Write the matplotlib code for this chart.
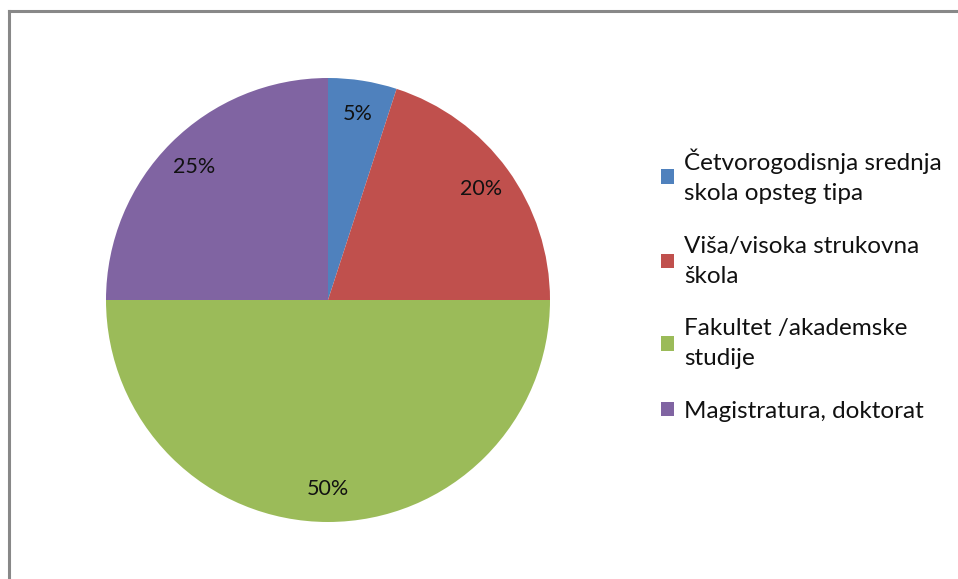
import matplotlib.pyplot as plt
from matplotlib.patches import Patch
from matplotlib.lines import Line2D

labels = ['Četvorogodisnja srednja\nskola opsteg tipa',
          'Viša/visoka strukovna\nškola',
          'Fakultet /akademske\nstudije',
          'Magistratura, doktorat']
values = [5, 20, 50, 25]
colors = ['#4F81BD', '#C0504D', '#9BBB59', '#8064A2']

plt.rcParams['font.family'] = ['Lato', 'DejaVu Sans']

W, H = 958, 579
fig = plt.figure(figsize=(W / 100, H / 100), dpi=100)

# frame lines (top and left visible in the crop)
fig.add_artist(Line2D([9 / W, 1], [1 - 11 / H, 1 - 11 / H], color='#888888', lw=2.2))
fig.add_artist(Line2D([9 / W, 9 / W], [0, 1 - 11 / H], color='#888888', lw=2.2))

cx, cy, r = 328, 300, 222
ax = fig.add_axes([(cx - r) / W, (H - cy - r) / H, 2 * r / W, 2 * r / H])
wedges, texts, autotexts = ax.pie(values, colors=colors, startangle=90, counterclock=False,
                                  autopct='%d%%', pctdistance=0.85, radius=1,
                                  textprops={'fontsize': 15.5, 'color': '#111111'})
ax.set_xlim(-1, 1)
ax.set_ylim(-1, 1)
ax.set_aspect('equal')
ax.axis('off')

handles = [Patch(facecolor=c) for c in colors]
leg = fig.legend(handles, labels, loc='upper left', bbox_to_anchor=(639 / W, 1 - 127 / H),
                 frameon=False, fontsize=17.5, handlelength=0.55, handleheight=0.55,
                 handletextpad=0.4, labelspacing=1.3)
for t in leg.get_texts():
    t.set_linespacing(1.52)
    t.set_color('#111111')

fig.savefig('out.png', dpi=100)
